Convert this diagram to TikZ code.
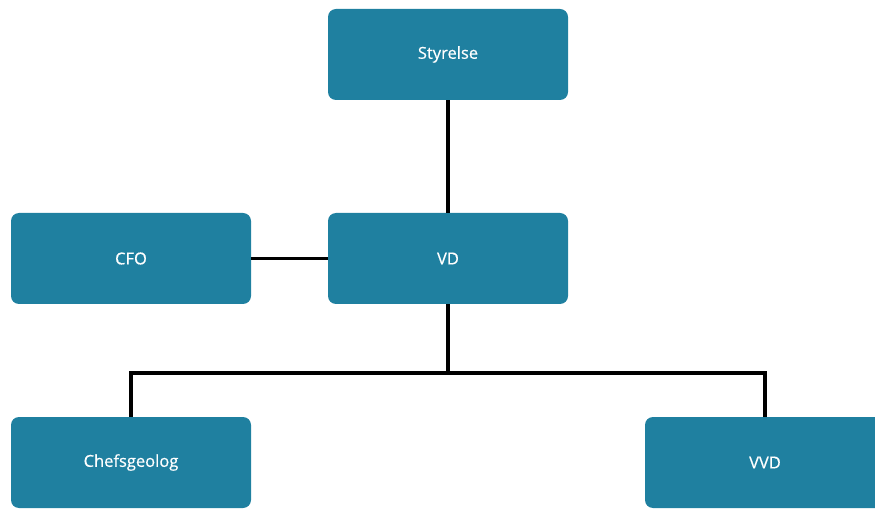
\documentclass[tikz,border=0pt]{standalone}
\usepackage{fontspec}
\setmainfont{Open Sans}[FakeBold=0.5]
\definecolor{boxblue}{RGB}{31,128,160}
\begin{document}
\begin{tikzpicture}[x=1pt,y=-1pt,
  orgbox/.style={fill=boxblue, rounded corners=8pt, minimum width=240pt, minimum height=91pt, inner sep=0pt, text=white, font=\fontsize{16.5}{19}\selectfont},
  conn/.style={line width=3.2pt, black}]
\useasboundingbox (0,0) rectangle (875,510);
\node[orgbox] (sty) at (448,54.5) {Styrelse};
\node[orgbox] (cfo) at (131,258.5) {CFO};
\node[orgbox] (vd) at (448,258.5) {VD};
\node[orgbox] (chef) at (131,462.5) {Chefsgeolog};
\node[orgbox] (vvd) at (765,462.5) {VVD};
\coordinate (mid) at (448,373);
\draw[conn] (sty.south) -- (vd.north);
\draw[conn] (cfo.east) -- (vd.west);
\draw[conn] (vd.south) -- (mid);
\draw[conn] (mid) -| (chef.north);
\draw[conn] (mid) -| (vvd.north);
\end{tikzpicture}
\end{document}
